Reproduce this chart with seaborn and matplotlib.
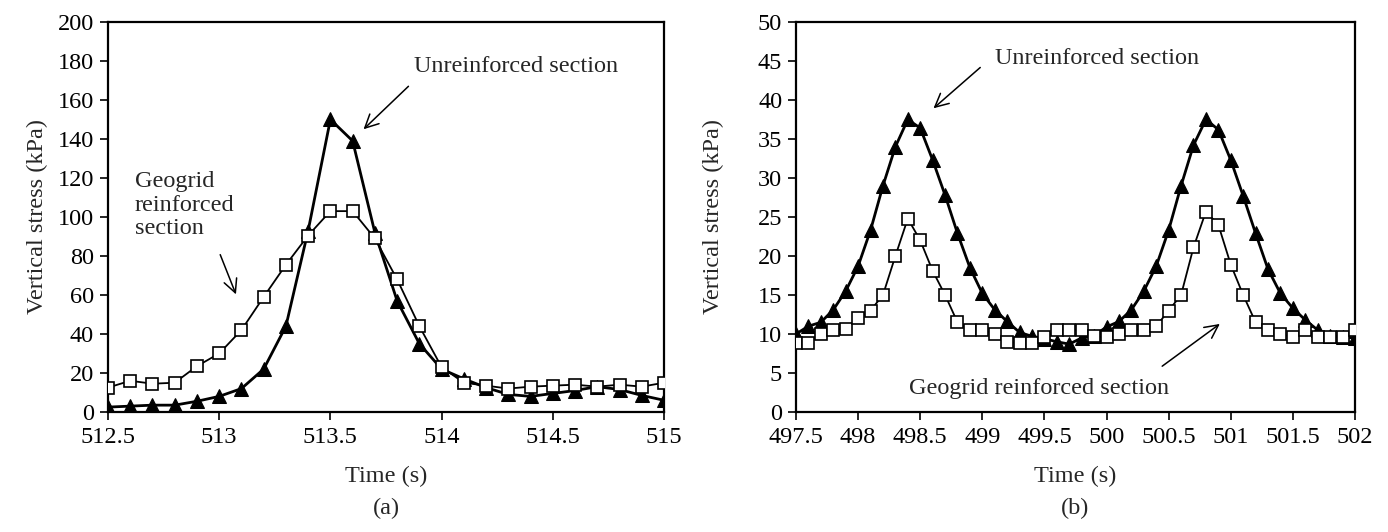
import matplotlib
matplotlib.use("Agg")
import matplotlib.pyplot as plt
import numpy as np
import pandas as pd
import seaborn as sns

# --- Panel (a) data ---
time_a = [512.5, 512.6, 512.7, 512.8, 512.9, 513.0, 513.1, 513.2, 513.3, 513.4,
          513.5, 513.6, 513.7, 513.8, 513.9, 514.0, 514.1, 514.2, 514.3, 514.4,
          514.5, 514.6, 514.7, 514.8, 514.9, 515.0]
unreinf_a = [2.5, 3, 3.5, 3.5, 5.5, 8, 12, 22, 44, 93,
             150, 139, 92, 57, 35, 22, 17, 12.5, 9, 8,
             9.5, 11, 13, 11.5, 8.5, 6]
geogrid_a = [12.5, 16, 14.5, 15, 23.5, 30, 42, 59, 75.5, 90.5,
             103, 103, 89, 68, 44, 23, 15, 13.5, 12, 13,
             13.5, 14, 13, 14, 13, 15]

# --- Panel (b) data ---
time_b = [497.5, 497.6, 497.7, 497.8, 497.9, 498.0, 498.1, 498.2, 498.3, 498.4,
          498.5, 498.6, 498.7, 498.8, 498.9, 499.0, 499.1, 499.2, 499.3, 499.4,
          499.5, 499.6, 499.7, 499.8, 499.9, 500.0, 500.1, 500.2, 500.3, 500.4,
          500.5, 500.6, 500.7, 500.8, 500.9, 501.0, 501.1, 501.2, 501.3, 501.4,
          501.5, 501.6, 501.7, 501.8, 501.9, 502.0]
unreinf_b = [10.0, 11.0, 11.5, 13.1, 15.5, 18.7, 23.3, 29.0, 34.0, 37.5,
             36.4, 32.3, 27.8, 22.9, 18.5, 15.2, 13.1, 11.6, 10.2, 9.7,
             9.4, 9.0, 8.7, 9.5, 9.8, 10.9, 11.6, 13.1, 15.5, 18.7,
             23.3, 29.0, 34.2, 37.5, 36.2, 32.3, 27.7, 22.9, 18.3, 15.2,
             13.3, 11.8, 10.5, 9.8, 9.6, 9.5]
geogrid_b = [8.8, 8.8, 10.0, 10.5, 10.7, 12.0, 13.0, 15.0, 20.0, 24.8,
             22.0, 18.1, 15.0, 11.5, 10.5, 10.5, 10.0, 9.0, 8.8, 8.8,
             9.6, 10.5, 10.5, 10.5, 9.7, 9.6, 10.0, 10.5, 10.5, 11.0,
             13.0, 15.0, 21.1, 25.7, 24.0, 18.9, 15.0, 11.5, 10.5, 10.0,
             9.6, 10.5, 9.6, 9.6, 9.6, 10.5]

FS = 17.5

sns.set_style("ticks")
plt.rcParams["font.family"] = ["Liberation Serif", "DejaVu Serif"]
plt.rcParams["font.size"] = FS

fig = plt.figure(figsize=(13.88, 5.32), dpi=100)
ax_a = fig.add_axes([0.0778, 0.2256, 0.4006, 0.7331])
ax_b = fig.add_axes([0.5735, 0.2256, 0.4027, 0.7331])

ARROW = dict(arrowstyle="->", color="black", lw=1.1, mutation_scale=24)


def draw_panel(ax, t, unreinf, geogrid, ylab_x):
    df = pd.DataFrame({"t": t, "u": unreinf, "g": geogrid})
    sns.lineplot(data=df, x="t", y="g", ax=ax, color="black", linewidth=1.3,
                 marker="s", markersize=9, markerfacecolor="white",
                 markeredgecolor="black", markeredgewidth=1.2, zorder=3)
    sns.lineplot(data=df, x="t", y="u", ax=ax, color="black", linewidth=2.0,
                 marker="^", markersize=10.5, markerfacecolor="black",
                 markeredgecolor="black", zorder=2)
    ax.set_xlabel("Time (s)", fontsize=FS)
    ax.set_ylabel("Vertical stress (kPa)", fontsize=FS)
    ax.xaxis.set_label_coords(0.5, -0.139)
    ax.yaxis.set_label_coords(ylab_x, 0.5)
    for sp in ax.spines.values():
        sp.set_visible(True)
        sp.set_color("black")
        sp.set_linewidth(1.6)
    ax.tick_params(axis="both", direction="out", length=6, width=1.2,
                   labelsize=FS, colors="black")
    ax.tick_params(axis="x", pad=5)
    ax.tick_params(axis="y", pad=4)


# Panel (a)
draw_panel(ax_a, time_a, unreinf_a, geogrid_a, -0.108)
ax_a.set_xlim(512.5, 515)
ax_a.set_ylim(0, 200)
ax_a.set_xticks(np.arange(512.5, 515.01, 0.5))
ax_a.set_xticklabels(["512.5", "513", "513.5", "514", "514.5", "515"])
ax_a.set_yticks(np.arange(0, 201, 20))
ax_a.annotate("", xy=(513.64, 144), xytext=(513.86, 168), arrowprops=ARROW)
ax_a.text(513.875, 177, "Unreinforced section", fontsize=FS, va="center", ha="left")
ax_a.text(512.62, 106, "Geogrid\nreinforced\nsection", fontsize=FS,
          va="center", ha="left", linespacing=1.15)
ax_a.annotate("", xy=(513.08, 59), xytext=(513.0, 82), arrowprops=ARROW)
ax_a.text(0.5, -0.247, "(a)", transform=ax_a.transAxes, fontsize=FS,
          ha="center", va="center")

# Panel (b)
draw_panel(ax_b, time_b, unreinf_b, geogrid_b, -0.129)
ax_b.set_xlim(497.5, 502)
ax_b.set_ylim(0, 50)
ax_b.set_xticks(np.arange(497.5, 502.01, 0.5))
ax_b.set_xticklabels(["497.5", "498", "498.5", "499", "499.5", "500",
                      "500.5", "501", "501.5", "502"])
ax_b.set_yticks(np.arange(0, 51, 5))
ax_b.annotate("", xy=(498.59, 38.7), xytext=(499.0, 44.4), arrowprops=ARROW)
ax_b.text(499.1, 45.3, "Unreinforced section", fontsize=FS, va="center", ha="left")
ax_b.annotate("", xy=(500.93, 11.5), xytext=(500.43, 5.66), arrowprops=ARROW)
ax_b.text(498.41, 3.05, "Geogrid reinforced section", fontsize=FS,
          va="center", ha="left")
ax_b.text(0.5, -0.247, "(b)", transform=ax_b.transAxes, fontsize=FS,
          ha="center", va="center")

fig.savefig("out.png", dpi=100, facecolor="white")
